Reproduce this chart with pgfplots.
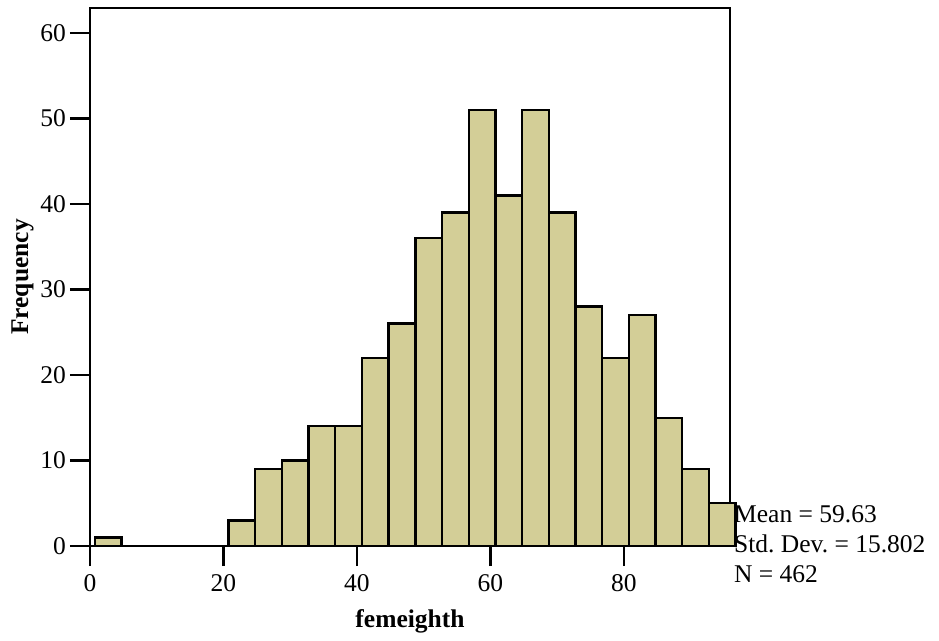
\documentclass[border=0pt]{standalone}
\usepackage{fontspec}
\setmainfont{Liberation Serif}
\usepackage{pgfplots}
\pgfplotsset{compat=1.18}
\definecolor{barfill}{HTML}{D3CE97}

\newcommand{\chartfont}{\fontsize{25.5bp}{30bp}\selectfont}
\frenchspacing

\begin{document}
\begin{tikzpicture}
\useasboundingbox (-90bp,-95bp) rectangle (849bp,546bp);
\begin{axis}[
  at={(0,0)}, anchor=south west,
  scale only axis,
  width=640bp, height=538bp,
  xmin=0, xmax=95.9, ymin=0, ymax=62.9,
  clip=false,
  axis line style={line width=2.4bp},
  tick style={line width=2.4bp, black},
  major tick length=20bp,
  tick align=outside,
  tick pos=left,
  xtick={0,20,40,60,80},
  ytick={0,10,20,30,40,50,60},
  /pgf/number format/assume math mode=true,
  tick label style={font=\chartfont},
  xticklabel style={inner sep=0pt, yshift=-8bp},
  yticklabel style={inner sep=0pt, xshift=-4bp},
  xlabel={femeighth},
  ylabel={Frequency},
  every axis x label/.style={at={(rel axis cs:0.5,-0.1394)}, anchor=center, inner sep=0pt, font=\chartfont\bfseries},
  every axis y label/.style={at={(rel axis cs:-0.1055,0.5)}, anchor=center, rotate=90, inner sep=0pt, font=\chartfont\bfseries},
]
% histogram of femeighth, bins of width 4 (left edges listed, last point closes the final bin)
\addplot[ybar interval, fill=barfill, draw=black, line width=2.4bp] coordinates {
  (0.75,1) (4.75,0) (8.75,0) (12.75,0) (16.75,0) (20.75,3) (24.75,9)
  (28.75,10) (32.75,14) (36.75,14) (40.75,22) (44.75,26) (48.75,36)
  (52.75,39) (56.75,51) (60.75,41) (64.75,51) (68.75,39) (72.75,28)
  (76.75,22) (80.75,27) (84.75,15) (88.75,9) (92.75,5) (96.75,5)
};
% summary statistics beside the plot
\node[anchor=base west, inner sep=0pt, font=\chartfont, xshift=4bp, yshift=24bp] at (rel axis cs:1,0) {Mean = 59.63};
\node[anchor=base west, inner sep=0pt, font=\chartfont, xshift=4bp, yshift=-6bp] at (rel axis cs:1,0) {Std.\ Dev. = 15.802};
\node[anchor=base west, inner sep=0pt, font=\chartfont, xshift=4bp, yshift=-36bp] at (rel axis cs:1,0) {N = 462};
\end{axis}
\end{tikzpicture}
\end{document}
